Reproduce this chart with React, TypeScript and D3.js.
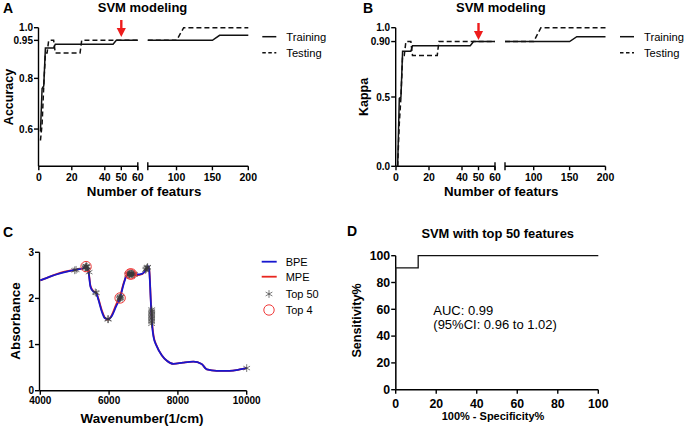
import React from "react";
import * as d3 from "d3";

// ---------- Panel A / B data ----------
const nFeatures = [1, 2, 3, 4, 5, 6, 7, 8, 9, 10, 11, 20, 25, 26, 30, 40, 45, 47, 50, 55, 60, 70, 80, 90, 100, 110, 120, 130, 140, 150, 160, 170, 180, 190, 200];
const accuracyTraining = [0.59, 0.76, 0.77, 0.92, 0.92, 0.92, 0.92, 0.92, 0.92, 0.935, 0.935, 0.935, 0.935, 0.935, 0.935, 0.935, 0.935, 0.95, 0.95, 0.95, 0.95, 0.95, 0.95, 0.95, 0.95, 0.95, 0.95, 0.95, 0.95, 0.95, 0.97, 0.97, 0.97, 0.97, 0.97];
const accuracyTesting = [0.555, 0.62, 0.77, 0.9, 0.9, 0.95, 0.95, 0.95, 0.95, 0.9, 0.9, 0.9, 0.9, 0.95, 0.95, 0.95, 0.95, 0.95, 0.95, 0.95, 0.95, 0.95, 0.95, 0.95, 0.95, 1.0, 1.0, 1.0, 1.0, 1.0, 1.0, 1.0, 1.0, 1.0, 1.0];
const kappaTraining = [0.0, 0.49, 0.5, 0.83, 0.83, 0.83, 0.83, 0.83, 0.83, 0.87, 0.87, 0.87, 0.87, 0.87, 0.87, 0.87, 0.87, 0.9, 0.9, 0.9, 0.9, 0.9, 0.9, 0.9, 0.9, 0.9, 0.9, 0.9, 0.9, 0.9, 0.935, 0.935, 0.935, 0.935, 0.935];
const kappaTesting = [0.0, 0.31, 0.5, 0.8, 0.8, 0.9, 0.9, 0.9, 0.9, 0.8, 0.8, 0.8, 0.8, 0.9, 0.9, 0.9, 0.9, 0.9, 0.9, 0.9, 0.9, 0.9, 0.9, 0.9, 0.9, 1.0, 1.0, 1.0, 1.0, 1.0, 1.0, 1.0, 1.0, 1.0, 1.0];
const xTicksSeg1 = [0, 20, 40, 50, 60];
const xTicksSeg2 = [100, 150, 200];
const accuracyTicks = [0.6, 0.8, 0.95, 1.0];
const accuracyTickLabels = ["0.6", "0.8", "0.95", "1.0"];
const kappaTicks = [0.0, 0.5, 0.9, 1.0];
const kappaTickLabels = ["0.0", "0.5", "0.90", "1.0"];
const selectedFeatures = 50;

// ---------- Panel C data ----------
const wavenumber = [4000, 4300, 4600, 5000, 5250, 5330, 5400, 5460, 5540, 5620, 5690, 5790, 5880, 5970, 6080, 6200, 6320, 6430, 6530, 6650, 6800, 6970, 7070, 7140, 7170, 7210, 7240, 7290, 7380, 7530, 7680, 7870, 8150, 8450, 8690, 8840, 9130, 9500, 9800, 10000];
const absorbanceBPE = [2.39, 2.48, 2.55, 2.62, 2.65, 2.7, 2.58, 2.25, 2.15, 2.12, 1.97, 1.71, 1.57, 1.55, 1.62, 1.82, 2.02, 2.33, 2.52, 2.54, 2.52, 2.54, 2.62, 2.7, 2.58, 1.97, 1.53, 1.17, 0.97, 0.77, 0.65, 0.58, 0.61, 0.63, 0.58, 0.46, 0.43, 0.43, 0.46, 0.49];
const absorbanceMPE = [2.39, 2.48, 2.56, 2.62, 2.66, 2.71, 2.6, 2.27, 2.16, 2.13, 1.99, 1.74, 1.58, 1.54, 1.64, 1.86, 2.05, 2.35, 2.51, 2.52, 2.5, 2.53, 2.61, 2.69, 2.6, 2.0, 1.56, 1.2, 0.98, 0.77, 0.65, 0.58, 0.61, 0.63, 0.58, 0.46, 0.43, 0.43, 0.46, 0.49];
const top50Wavenumber = [5000, 5040, 5300, 5310, 5320, 5340, 5350, 5360, 5380, 5420, 5600, 5630, 5960, 5980, 6300, 6310, 6320, 6325, 6330, 6340, 6540, 6560, 6580, 6590, 6600, 6620, 6640, 6650, 6660, 6680, 6700, 6720, 6740, 7060, 7080, 7100, 7110, 7120, 7235, 7235, 7236, 7236, 7237, 7237, 7238, 7238, 7239, 7239, 7240, 10000];
const top50Absorbance = [2.61, 2.62, 2.66, 2.67, 2.69, 2.7, 2.69, 2.68, 2.62, 2.57, 2.13, 2.12, 1.55, 1.55, 1.98, 2.0, 2.02, 2.01, 2.03, 2.05, 2.51, 2.52, 2.53, 2.52, 2.53, 2.54, 2.54, 2.53, 2.54, 2.53, 2.53, 2.52, 2.52, 2.62, 2.64, 2.66, 2.67, 2.68, 1.45, 1.49, 1.52, 1.55, 1.58, 1.61, 1.64, 1.67, 1.7, 1.73, 1.76, 0.49];
const top4Wavenumber = [5330, 6320, 6610, 6650];
const top4Absorbance = [2.69, 2.01, 2.53, 2.53];
const wnTicks = [4000, 6000, 8000, 10000];
const absTicks = [0, 1, 2, 3];

// ---------- Panel D data ----------
const rocFPR = [0, 0, 11.1, 11.1, 100];
const rocTPR = [0, 90.9, 90.9, 100, 100];
const rocTicks = [0, 20, 40, 60, 80, 100];

const FONT = "'Liberation Sans', Arial, Helvetica, sans-serif";
const AX = 1.4;

type Pt = [number, number];

function FeaturePanel(props: {
  x0: number;
  yScaleDomain: [number, number];
  yTicks: number[];
  yTickLabels: string[];
  train: number[];
  test: number[];
  yLabel: string;
  yLabelX: number;
  letter: string;
  letterX: number;
  titleX: number;
  arrowTop: number;
  legendX: number;
}) {
  const { x0 } = props;
  const yTop = 27.7;
  const yBot = 166.3;
  const ys = d3.scaleLinear().domain(props.yScaleDomain).range([yBot, yTop]);
  const xs1 = d3.scaleLinear().domain([0, 60]).range([x0, x0 + 99]);
  const xs2 = d3.scaleLinear().domain([60, 200]).range([x0 + 109, x0 + 209.5]);
  const pts = (vals: number[]): Pt[] => nFeatures.map((n, i) => [n, vals[i]] as Pt);
  const seg = (vals: number[], s: number) => {
    const p = pts(vals).filter((d) => (s === 1 ? d[0] <= 60 : d[0] >= 60));
    const xs = s === 1 ? xs1 : xs2;
    return d3.line<Pt>().x((d) => xs(d[0])).y((d) => ys(d[1]))(p) || "";
  };
  const ax = x0 - 0.3;
  const arrowX = xs1(selectedFeatures);
  const aT = props.arrowTop;
  return (
    <g>
      <text x={props.letterX} y={13} fontFamily={FONT} fontWeight="bold" fontSize={14}>{props.letter}</text>
      <text x={props.titleX} y={11.5} fontFamily={FONT} fontWeight="bold" fontSize={13} textAnchor="middle">SVM modeling</text>
      {/* y axis */}
      <line x1={ax} x2={ax} y1={yTop} y2={yBot} stroke="#000" strokeWidth={AX} />
      {props.yTicks.map((t, i) => (
        <g key={i}>
          <line x1={ax - 4.5} x2={ax} y1={ys(t)} y2={ys(t)} stroke="#000" strokeWidth={AX} />
          <text x={ax - 5.5} y={ys(t) + 3.5} fontFamily={FONT} fontWeight="bold" fontSize={10} textAnchor="end">{props.yTickLabels[i]}</text>
        </g>
      ))}
      <text transform={`translate(${props.yLabelX},97) rotate(-90)`} fontFamily={FONT} fontWeight="bold" fontSize={12.5} textAnchor="middle">{props.yLabel}</text>
      {/* x axis segment 1 */}
      <line x1={ax} x2={xs1(60)} y1={yBot} y2={yBot} stroke="#000" strokeWidth={AX} />
      <line x1={xs2(60)} x2={xs2(200)} y1={yBot} y2={yBot} stroke="#000" strokeWidth={AX} />
      <line x1={xs1(60)} x2={xs1(60)} y1={yBot - 4} y2={yBot + 4} stroke="#000" strokeWidth={AX} />
      <line x1={xs2(60)} x2={xs2(60)} y1={yBot - 4} y2={yBot + 4} stroke="#000" strokeWidth={AX} />
      {xTicksSeg1.map((t) => (
        <g key={"a" + t}>
          <line x1={xs1(t)} x2={xs1(t)} y1={yBot} y2={yBot + 4} stroke="#000" strokeWidth={AX} />
          <text x={xs1(t)} y={181} fontFamily={FONT} fontWeight="bold" fontSize={10.5} textAnchor="middle">{t}</text>
        </g>
      ))}
      {xTicksSeg2.map((t) => (
        <g key={"b" + t}>
          <line x1={xs2(t)} x2={xs2(t)} y1={yBot} y2={yBot + 4} stroke="#000" strokeWidth={AX} />
          <text x={xs2(t)} y={181} fontFamily={FONT} fontWeight="bold" fontSize={10.5} textAnchor="middle">{t}</text>
        </g>
      ))}
      <text x={(x0 + xs2(200)) / 2 + 0.5} y={196} fontFamily={FONT} fontWeight="bold" fontSize={13.3} textAnchor="middle">Number of featurs</text>
      {/* data */}
      <path d={seg(props.test, 1)} fill="none" stroke="#111" strokeWidth={1.5} strokeDasharray="5,3" />
      <path d={seg(props.test, 2)} fill="none" stroke="#111" strokeWidth={1.5} strokeDasharray="5,3" />
      <path d={seg(props.train, 1)} fill="none" stroke="#111" strokeWidth={1.5} />
      <path d={seg(props.train, 2)} fill="none" stroke="#111" strokeWidth={1.5} />
      {/* arrow */}
      <line x1={arrowX} x2={arrowX} y1={aT} y2={aT + 9} stroke="#ee1c1c" strokeWidth={2.4} />
      <path d={`M${arrowX - 4.6},${aT + 8} L${arrowX + 4.6},${aT + 8} L${arrowX},${aT + 17} Z`} fill="#ee1c1c" />
      {/* legend */}
      <line x1={props.legendX} x2={props.legendX + 14} y1={36.7} y2={36.7} stroke="#111" strokeWidth={1.5} />
      <line x1={props.legendX} x2={props.legendX + 14} y1={52.7} y2={52.7} stroke="#111" strokeWidth={1.5} strokeDasharray="3.5,2.5" />
      <text x={props.legendX + 24} y={40.7} fontFamily={FONT} fontSize={11.2}>Training</text>
      <text x={props.legendX + 24} y={56.7} fontFamily={FONT} fontSize={11.2}>Testing</text>
    </g>
  );
}

function SpectrumPanel() {
  const xs = d3.scaleLinear().domain([4000, 10000]).range([40.3, 246.7]);
  const ys = d3.scaleLinear().domain([0, 3]).range([390.7, 252.3]);
  const ax = 39.5;
  const line = d3.line<Pt>().x((d) => xs(d[0])).y((d) => ys(d[1])).curve(d3.curveMonotoneX);
  const bpe = line(wavenumber.map((w, i) => [w, absorbanceBPE[i]] as Pt)) || "";
  const mpe = line(wavenumber.map((w, i) => [w, absorbanceMPE[i]] as Pt)) || "";
  const star = d3.symbol().type(d3.symbolAsterisk).size(42)() || "";
  return (
    <g>
      <text x={3} y={237} fontFamily={FONT} fontWeight="bold" fontSize={14}>C</text>
      <line x1={ax} x2={ax} y1={ys(3)} y2={ys(0)} stroke="#000" strokeWidth={AX} />
      <line x1={ax} x2={xs(10000)} y1={ys(0)} y2={ys(0)} stroke="#000" strokeWidth={AX} />
      {absTicks.map((t) => (
        <g key={t}>
          <line x1={ax - 4.5} x2={ax} y1={ys(t)} y2={ys(t)} stroke="#000" strokeWidth={AX} />
          <text x={ax - 5.5} y={ys(t) + 3.5} fontFamily={FONT} fontWeight="bold" fontSize={10} textAnchor="end">{t}</text>
        </g>
      ))}
      {wnTicks.map((t) => (
        <g key={t}>
          <line x1={xs(t)} x2={xs(t)} y1={ys(0)} y2={ys(0) + 4} stroke="#000" strokeWidth={AX} />
          <text x={xs(t)} y={404} fontFamily={FONT} fontWeight="bold" fontSize={10} textAnchor="middle">{t}</text>
        </g>
      ))}
      <text x={142} y={423} fontFamily={FONT} fontWeight="bold" fontSize={13.4} textAnchor="middle">Wavenumber(1/cm)</text>
      <text transform="translate(19.5,321) rotate(-90)" fontFamily={FONT} fontWeight="bold" fontSize={13.4} textAnchor="middle">Absorbance</text>
      <path d={mpe} fill="none" stroke="#e8261f" strokeWidth={1.8} />
      <path d={bpe} fill="none" stroke="#1717cf" strokeWidth={1.8} />
      {top50Wavenumber.map((w, i) => (
        <path key={i} d={star} transform={`translate(${xs(w)},${ys(top50Absorbance[i])})`} fill="none" stroke="#3a3a3a" strokeWidth={0.9} opacity={0.75} />
      ))}
      {top4Wavenumber.map((w, i) => (
        <circle key={i} cx={xs(w)} cy={ys(top4Absorbance[i])} r={5.2} fill="none" stroke="#f03a3a" strokeWidth={1} />
      ))}
      {/* legend */}
      <line x1={261.7} x2={276.7} y1={261.7} y2={261.7} stroke="#1717cf" strokeWidth={1.8} />
      <line x1={261.7} x2={276.7} y1={276.7} y2={276.7} stroke="#e8261f" strokeWidth={1.8} />
      <path d={star} transform="translate(269,294)" fill="none" stroke="#3a3a3a" strokeWidth={0.9} opacity={0.75} />
      <circle cx={269} cy={310} r={5.2} fill="none" stroke="#f03a3a" strokeWidth={1} />
      <text x={285.7} y={265.7} fontFamily={FONT} fontSize={11}>BPE</text>
      <text x={285.7} y={280.7} fontFamily={FONT} fontSize={11}>MPE</text>
      <text x={285.7} y={298} fontFamily={FONT} fontSize={11}>Top 50</text>
      <text x={285.7} y={314} fontFamily={FONT} fontSize={11}>Top 4</text>
    </g>
  );
}

function RocPanel() {
  const xs = d3.scaleLinear().domain([0, 100]).range([395.7, 598.3]);
  const ys = d3.scaleLinear().domain([0, 100]).range([389.7, 255.7]);
  const ax = 395.7;
  const roc = d3.line<Pt>().x((d) => xs(d[0])).y((d) => ys(d[1]))(rocFPR.map((f, i) => [f, rocTPR[i]] as Pt)) || "";
  return (
    <g>
      <text x={347} y={236} fontFamily={FONT} fontWeight="bold" fontSize={14}>D</text>
      <text x={497.7} y={238} fontFamily={FONT} fontWeight="bold" fontSize={12.9} textAnchor="middle">SVM with top 50 features</text>
      <line x1={ax} x2={ax} y1={ys(100)} y2={ys(0)} stroke="#000" strokeWidth={AX} />
      <line x1={ax} x2={xs(100)} y1={ys(0)} y2={ys(0)} stroke="#000" strokeWidth={AX} />
      {rocTicks.map((t) => (
        <g key={"y" + t}>
          <line x1={ax - 4.5} x2={ax} y1={ys(t)} y2={ys(t)} stroke="#000" strokeWidth={AX} />
          <text x={ax - 5.5} y={ys(t) + 4.3} fontFamily={FONT} fontWeight="bold" fontSize={12.3} textAnchor="end">{t}</text>
        </g>
      ))}
      {rocTicks.map((t) => (
        <g key={"x" + t}>
          <line x1={xs(t)} x2={xs(t)} y1={ys(0)} y2={ys(0) + 4} stroke="#000" strokeWidth={AX} />
          <text x={xs(t)} y={407.5} fontFamily={FONT} fontWeight="bold" fontSize={12.3} textAnchor="middle">{t}</text>
        </g>
      ))}
      <text x={493} y={420} fontFamily={FONT} fontWeight="bold" fontSize={11} textAnchor="middle">100% - Specificity%</text>
      <text transform="translate(361,320.5) rotate(-90)" fontFamily={FONT} fontWeight="bold" fontSize={12.6} textAnchor="middle">Sensitivity%</text>
      <path d={roc} fill="none" stroke="#111" strokeWidth={1.3} />
      <text x={433.3} y={315} fontFamily={FONT} fontSize={13}>AUC: 0.99</text>
      <text x={433.3} y={329} fontFamily={FONT} fontSize={13}>(95%CI: 0.96 to 1.02)</text>
    </g>
  );
}

export default function App() {
  return (
    <svg width={685} height={428} viewBox="0 0 685 428" style={{ position: "absolute", left: 0, top: 0, background: "#fff" }}>
      <rect width={685} height={428} fill="#fff" />
      <FeaturePanel x0={38.8} yScaleDomain={[0.453, 1.0]} yTicks={accuracyTicks} yTickLabels={accuracyTickLabels}
        train={accuracyTraining} test={accuracyTesting} yLabel="Accuracy" yLabelX={12.5} letter="A" letterX={3}
        titleX={142.5} arrowTop={20} legendX={262.3} />
      <FeaturePanel x0={396} yScaleDomain={[0, 1.0]} yTicks={kappaTicks} yTickLabels={kappaTickLabels}
        train={kappaTraining} test={kappaTesting} yLabel="Kappa" yLabelX={367.5} letter="B" letterX={363}
        titleX={500.8} arrowTop={23} legendX={620} />
      <SpectrumPanel />
      <RocPanel />
    </svg>
  );
}
